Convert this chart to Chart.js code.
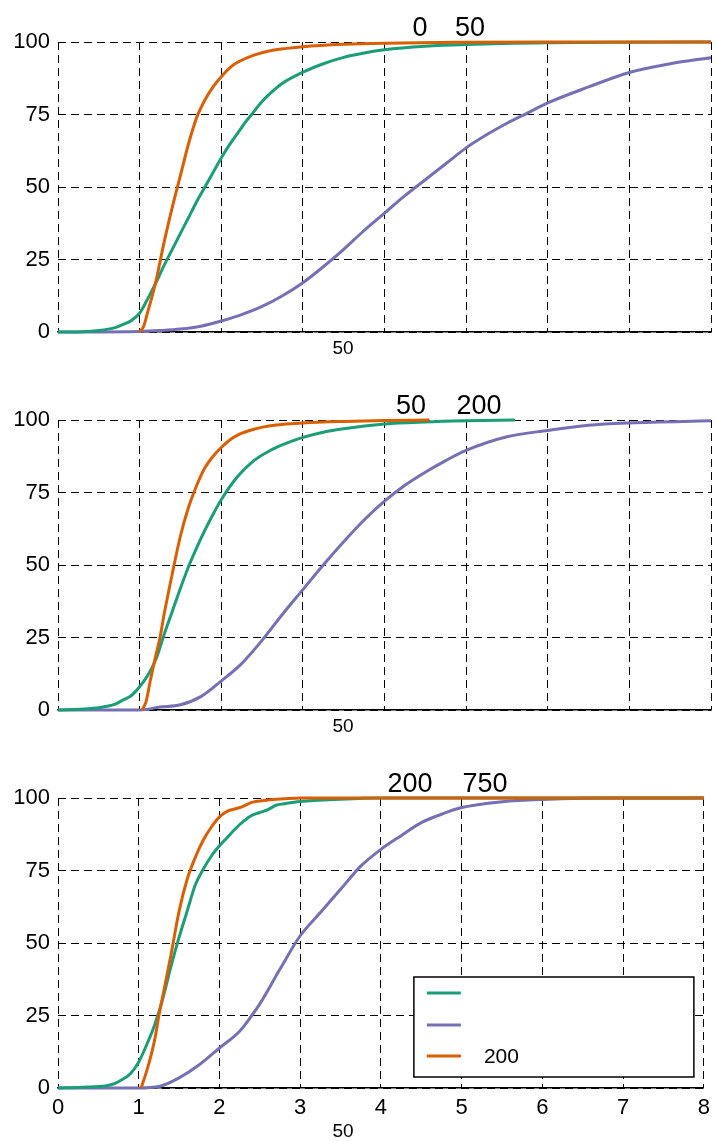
<!DOCTYPE html>
<html>
<head>
<meta charset="utf-8">
<script src="https://cdn.jsdelivr.net/npm/chart.js@4"></script>
<style>
  body { margin: 0; background: #fff; }
  canvas { position: absolute; left: 0; }
</style>
</head>
<body>
<canvas id="c1" width="717" height="365" style="top:0px"></canvas>
<canvas id="c2" width="717" height="375" style="top:365px"></canvas>
<canvas id="c3" width="717" height="401" style="top:740px"></canvas>
<script>
// labels
const seriesLabels = ['', '', '200'];
const panelTitles = [['0', '50'], ['50', '200'], ['200', '750']];
const xTitle = '50';
const yTicks = [0, 25, 50, 75, 100];
const xTicks = [0, 1, 2, 3, 4, 5, 6, 7, 8];

// panel 1
const p1GreenX = [0, 0.3, 0.5, 0.7, 0.8, 0.9, 1.0, 1.1, 1.2, 1.3, 1.4, 1.5, 1.6, 1.7, 1.8, 1.9, 2.0, 2.1, 2.2, 2.3, 2.4, 2.5, 2.6, 2.75, 3.0, 3.25, 3.5, 3.75, 4.0, 4.5, 5, 6, 7, 8];
const p1GreenY = [0, 0.1, 0.5, 1.5, 2.6, 4, 6.5, 11.5, 17, 23, 28.5, 34, 39.5, 45, 50, 55, 60, 64.5, 68.5, 72.5, 76, 79.5, 82.3, 85.8, 89.6, 92.5, 94.7, 96.2, 97.3, 98.5, 99.1, 99.7, 99.9, 100];
const p1PurpleX = [0, 1, 1.25, 1.5, 1.75, 2, 2.25, 2.5, 2.75, 3, 3.25, 3.5, 3.75, 4, 4.25, 4.5, 4.75, 5, 5.25, 5.5, 5.75, 6, 6.5, 7, 7.5, 8];
const p1PurpleY = [0, 0.2, 0.5, 1, 2, 3.8, 6, 8.8, 12.5, 17, 22.5, 28.5, 35, 41, 47, 52.5, 58, 63.5, 68, 72, 75.5, 79, 84.5, 89.5, 92.5, 94.6];
const p1OrangeX = [1.0, 1.05, 1.1, 1.15, 1.2, 1.3, 1.4, 1.5, 1.6, 1.7, 1.8, 1.9, 2.0, 2.1, 2.2, 2.4, 2.6, 2.8, 3.0, 3.5, 4, 5, 6, 8];
const p1OrangeY = [0, 2, 7, 12, 17.5, 31, 43, 54, 65, 74, 80, 84.5, 88, 91, 93, 95.5, 97, 97.8, 98.4, 99.2, 99.6, 99.9, 100, 100];

// panel 2
const p2GreenX = [0, 0.5, 0.7, 0.8, 0.9, 1.0, 1.1, 1.2, 1.3, 1.4, 1.5, 1.6, 1.7, 1.8, 1.9, 2.0, 2.2, 2.4, 2.6, 2.8, 3.0, 3.25, 3.5, 4, 4.5, 5, 5.6];
const p2GreenY = [0, 0.8, 2, 3.5, 5, 8, 12, 17.5, 26, 34, 42, 49.5, 56, 62, 67.5, 72.5, 80.5, 86, 89.5, 92, 94, 95.8, 97, 98.6, 99.3, 99.7, 100];
const p2PurpleX = [0, 1, 1.25, 1.5, 1.75, 2, 2.25, 2.5, 2.75, 3, 3.25, 3.5, 3.75, 4, 4.25, 4.5, 4.75, 5, 5.5, 6, 6.5, 7, 8];
const p2PurpleY = [0, 0, 1, 1.8, 4.6, 10, 16, 24, 33, 41.5, 50, 58, 65.5, 72, 77.5, 82, 86, 89.5, 94.2, 96.4, 98.2, 99, 99.7];
const p2OrangeX = [1.03, 1.08, 1.13, 1.2, 1.25, 1.3, 1.4, 1.5, 1.6, 1.7, 1.8, 1.9, 2.0, 2.1, 2.2, 2.4, 2.6, 2.8, 3.0, 3.5, 4, 4.55];
const p2OrangeY = [0, 3, 10, 19, 25, 33, 47, 60, 70, 77.5, 83.5, 87.5, 90.5, 93, 94.8, 96.8, 98, 98.6, 99, 99.5, 99.8, 100];

// panel 3
const p3GreenX = [0, 0.3, 0.6, 0.7, 0.8, 0.9, 1.0, 1.1, 1.2, 1.3, 1.4, 1.5, 1.6, 1.7, 1.8, 1.9, 2.0, 2.1, 2.2, 2.3, 2.4, 2.5, 2.6, 2.7, 2.8, 3.0, 3.5, 4, 8];
const p3GreenY = [0, 0.3, 0.8, 1.5, 3, 5, 9, 15, 22, 31, 42, 52, 61, 70, 75.5, 80, 83.5, 86.5, 89.5, 92, 94, 95, 96, 97.5, 98, 98.8, 99.6, 100, 100];
const p3PurpleX = [0, 1, 1.25, 1.5, 1.75, 2, 2.25, 2.4, 2.5, 2.75, 3, 3.25, 3.5, 3.75, 4, 4.25, 4.5, 4.75, 5, 5.5, 6, 7, 8];
const p3PurpleY = [0, 0, 0.5, 3.5, 8, 13.8, 19.6, 25, 29, 41, 52.5, 60.5, 68.5, 76.5, 82.3, 87, 91.5, 94.4, 96.7, 98.7, 99.5, 100, 100];
const p3OrangeX = [1.03, 1.1, 1.15, 1.2, 1.25, 1.3, 1.4, 1.5, 1.6, 1.7, 1.8, 1.9, 2.0, 2.1, 2.2, 2.3, 2.4, 2.6, 2.8, 3, 8];
const p3OrangeY = [0, 6, 11, 17, 25, 32, 46, 61, 72, 79.5, 85.5, 90, 93.5, 95.5, 96.3, 97.2, 98.5, 99.3, 99.7, 100, 100];

const colors = ['#1b9e77', '#7570b3', '#d95f02'];
const FONT = "'Liberation Sans', Arial, Helvetica, sans-serif";
const DASH = [8, 5];

const pts = (xs, ys) => xs.map((x, i) => ({ x: x, y: ys[i] }));

// texts that sit outside the normal title/axis title spots
const extraText = {
  id: 'extraText',
  afterDraw(chart, args, opts) {
    const ctx = chart.ctx;
    const a = chart.chartArea;
    ctx.save();
    ctx.fillStyle = '#000';
    ctx.textAlign = 'center';
    ctx.textBaseline = 'alphabetic';
    ctx.font = '27px ' + FONT;
    opts.title.forEach((t, i) => ctx.fillText(t, opts.titleX[i], a.top - 6));
    ctx.font = '19px ' + FONT;
    ctx.textBaseline = 'middle';
    ctx.fillText(opts.xTitle, 343, a.bottom + opts.xTitleGap);
    ctx.restore();
  }
};

const boxLegend = {
  id: 'boxLegend',
  afterDatasetsDraw(chart, args, opts) {
    if (!opts.show) return;
    const ctx = chart.ctx;
    const a = chart.chartArea;
    const w = 280, h = 100;
    const left = a.right - 10 - w, top = a.bottom - 11 - h;
    ctx.save();
    ctx.fillStyle = '#fff';
    ctx.fillRect(left, top, w, h);
    ctx.strokeStyle = '#000';
    ctx.lineWidth = 1.5;
    ctx.strokeRect(left, top, w, h);
    const rows = [16, 48, 79];
    ctx.font = '21px ' + FONT;
    ctx.textBaseline = 'middle';
    ctx.fillStyle = '#000';
    chart.data.datasets.forEach((ds, i) => {
      const y = top + rows[i];
      ctx.strokeStyle = ds.borderColor;
      ctx.lineWidth = 3;
      ctx.beginPath();
      ctx.moveTo(left + 13, y);
      ctx.lineTo(left + 47, y);
      ctx.stroke();
      ctx.fillText(ds.label, left + 70, y + 1);
    });
    ctx.restore();
  }
};

function makePanel(id, series, title, titleX, padTop, xHeight, showX, showLegend, xTitleGap) {
  return new Chart(document.getElementById(id), {
    type: 'line',
    data: {
      datasets: series.map((s, i) => ({
        label: seriesLabels[i],
        data: s,
        borderColor: colors[i],
        borderWidth: 3,
        pointRadius: 0,
        cubicInterpolationMode: 'monotone',
        clip: 5,
        order: [1, 2, 0][i]
      }))
    },
    options: {
      responsive: false,
      animation: false,
      layout: { padding: { top: padTop, right: 6, left: 0, bottom: 0 } },
      plugins: {
        legend: { display: false },
        tooltip: { enabled: false },
        extraText: { title: title, titleX: titleX, xTitle: xTitle, xTitleGap: xTitleGap },
        boxLegend: { show: showLegend }
      },
      scales: {
        x: {
          type: 'linear',
          min: 0, max: 8,
          afterBuildTicks: s => { s.ticks = xTicks.map(v => ({ value: v })); },
          afterFit: s => { s.height = xHeight; },
          ticks: { display: showX, padding: 7, color: '#000', font: { family: FONT, size: 22 } },
          grid: { color: '#000', lineWidth: 1, drawTicks: false },
          border: { display: true, color: '#000', width: 1.5, dash: DASH }
        },
        y: {
          min: 0, max: 100,
          afterBuildTicks: s => { s.ticks = yTicks.map(v => ({ value: v })); },
          afterFit: s => { s.width = 58; },
          ticks: { padding: 8, color: '#000', font: { family: FONT, size: 22 } },
          grid: { color: '#000', lineWidth: 1, drawTicks: false },
          border: { display: false, dash: DASH }
        }
      }
    },
    plugins: [extraText, boxLegend]
  });
}

makePanel('c1', [pts(p1GreenX, p1GreenY), pts(p1PurpleX, p1PurpleY), pts(p1OrangeX, p1OrangeY)],
  panelTitles[0], [420, 470], 42, 33, false, false, 17);
makePanel('c2', [pts(p2GreenX, p2GreenY), pts(p2PurpleX, p2PurpleY), pts(p2OrangeX, p2OrangeY)],
  panelTitles[1], [411, 479], 55, 30, false, false, 17);
makePanel('c3', [pts(p3GreenX, p3GreenY), pts(p3PurpleX, p3PurpleY), pts(p3OrangeX, p3OrangeY)],
  panelTitles[2], [410, 485], 58, 53, true, true, 44);
</script>
</body>
</html>
